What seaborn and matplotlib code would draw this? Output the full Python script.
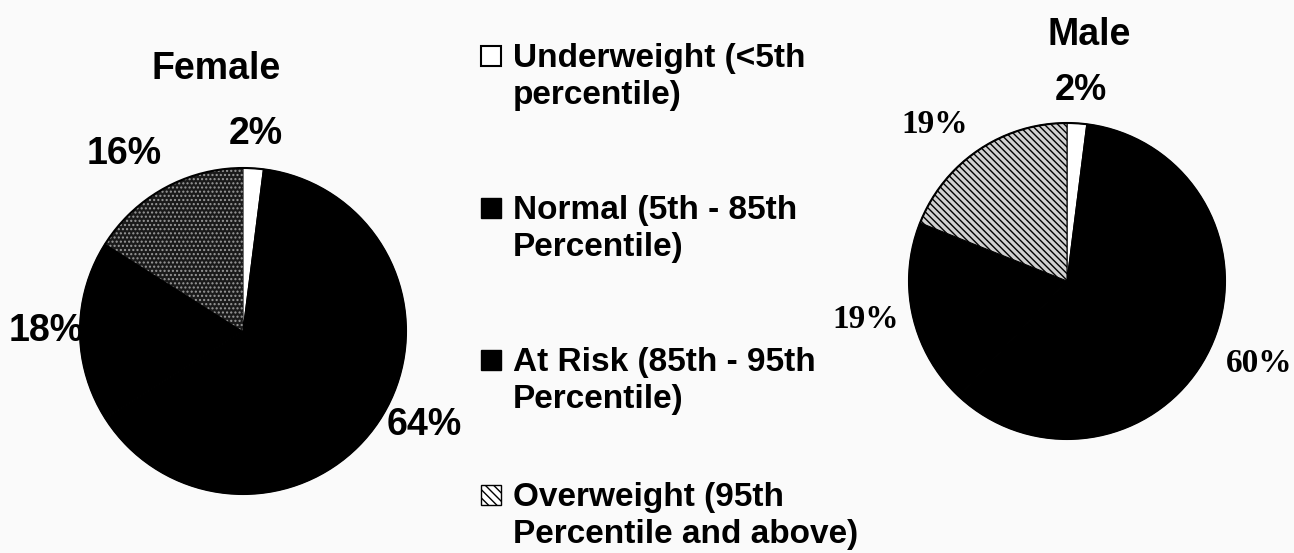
import matplotlib
matplotlib.use("Agg")
import matplotlib.pyplot as plt
from matplotlib.patches import Rectangle
import numpy as np
import seaborn as sns

# data
categories = ["Underweight (<5th\npercentile)",
              "Normal (5th - 85th\nPercentile)",
              "At Risk (85th - 95th\nPercentile)",
              "Overweight (95th\nPercentile and above)"]
female = [2, 64, 18, 16]
male = [2, 60, 19, 19]

sns.set_theme(style="white")
plt.rcParams["font.family"] = ["Liberation Sans", "DejaVu Sans"]
plt.rcParams["text.color"] = "black"
plt.rcParams["hatch.linewidth"] = 1.0

SANS = ["Liberation Sans", "DejaVu Sans"]
SERIF = ["Liberation Serif", "DejaVu Serif"]

bg = "#fafafa"
fig = plt.figure(figsize=(12.94, 5.53), dpi=100, facecolor=bg)

W, H = 1294, 553


def pie_axes(cx, cy, r):
    # pixel centre / radius -> figure axes
    return fig.add_axes([(cx - r) / W, (H - cy - r) / H, 2 * r / W, 2 * r / H])


def draw_pie(ax, values, over_style, dists, nudges, fonts):
    wedges, _ = ax.pie(values, startangle=90, counterclock=False, radius=1,
                       colors=["white", "black", "black", "black"],
                       wedgeprops=dict(linewidth=0.8, edgecolor="black"))
    for k, v in over_style.items():
        getattr(wedges[3], "set_" + k)(v)
    ax.set_xlim(-1, 1)
    ax.set_ylim(-1, 1)
    ax.set_aspect("equal")
    ax.axis("off")
    for w, v, d, n, (fam, fs) in zip(wedges, values, dists, nudges, fonts):
        ang = np.deg2rad((w.theta1 + w.theta2) / 2 + n)
        ax.text(d * np.cos(ang), d * np.sin(ang), f"{v}%", ha="center", va="center",
                fontsize=fs, fontweight="bold", family=fam, clip_on=False)
    # black circle outline
    ax.add_patch(plt.Circle((0, 0), 1, fill=False, lw=1.5, color="black", clip_on=False))


ax_f = pie_axes(243, 331, 163)
draw_pie(ax_f, female,
         dict(facecolor="#1a1a1a", edgecolor="#9a9a9a", hatch="....", linewidth=0),
         [1.21, 1.25, 1.21, 1.31], [0, 5, 0, 5],
         [(SANS, 27)] * 4)

ax_m = pie_axes(1067, 281, 158)
draw_pie(ax_m, male,
         dict(facecolor="#d0d0d0", edgecolor="black", hatch="\\\\\\\\\\"),
         [1.21, 1.32, 1.30, 1.30], [-0.6, 2, -1.7, 6],
         [(SANS, 26), (SERIF, 24), (SERIF, 24), (SERIF, 24)])

fig.text(216 / W, 1 - 69 / H, "Female", ha="center", va="center",
         fontsize=27, fontweight="bold")
fig.text(1089 / W, 1 - 35 / H, "Male", ha="center", va="center",
         fontsize=27, fontweight="bold")

# legend drawn by hand so the box sits on the first line
leg_styles = [dict(facecolor="white", edgecolor="black", lw=1.5),
              dict(facecolor="black", edgecolor="black"),
              dict(facecolor="black", edgecolor="black"),
              dict(facecolor="white", edgecolor="black", hatch="\\\\\\\\", lw=1.0)]
baselines = [66, 218, 370, 505]   # first-line baselines, px from top
line_gap = 38
for lab, st, y in zip(categories, leg_styles, baselines):
    s = 20
    fig.patches.append(Rectangle((481 / W, (H - y) / H), s / W, s / H,
                                 transform=fig.transFigure, **st))
    # matplotlib puts the last line on the baseline
    fig.text(513 / W, (H - y - line_gap) / H, lab, ha="left", va="baseline",
             fontsize=24, fontweight="bold", linespacing=1.27)

fig.savefig("out.png", dpi=100, facecolor=bg)
